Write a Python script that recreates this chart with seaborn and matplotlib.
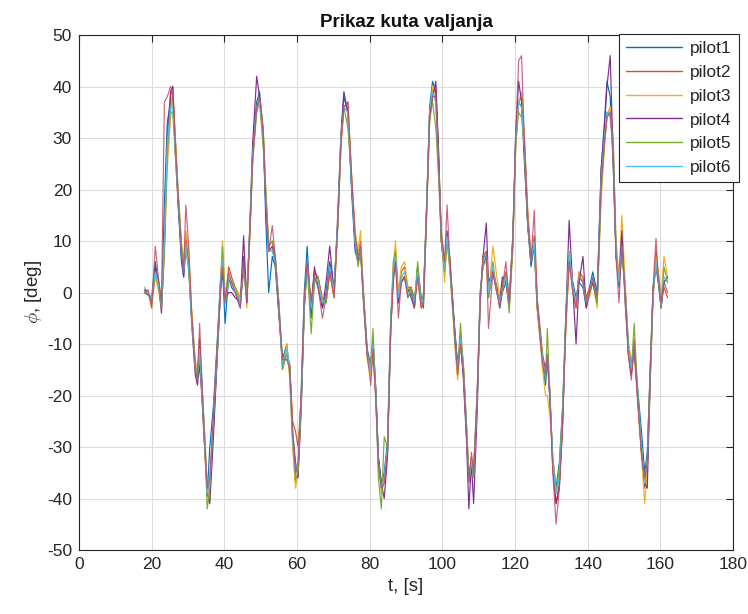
import numpy as np
import pandas as pd
import matplotlib
matplotlib.use("Agg")
import matplotlib.pyplot as plt
from matplotlib.lines import Line2D
import seaborn as sns

# ---------------- data ----------------
t = [
    18, 19, 20, 21, 22, 22.7, 23.5, 24.3, 25.2, 25.8,
    26.5, 27.3, 28.2, 28.8, 29.4, 30.2, 31, 32, 32.6, 33.2,
    33.9, 34.5, 35.3, 36, 37, 38, 39, 39.5, 40.2, 41.2,
    42, 43, 44.4, 45.3, 46.2, 47.1, 47.8, 48.9, 49.7, 50.7,
    51.4, 52.2, 53.2, 54, 55, 56, 57.2, 58, 58.8, 59.6,
    60.3, 61.2, 62, 62.8, 63.9, 64.8, 65.8, 67, 68, 69,
    70.2, 71.2, 72.1, 72.9, 74, 75, 76, 76.8, 77.5, 78.2,
    79.3, 80.3, 80.9, 81.7, 82.4, 83.2, 84, 84.9, 85.8, 86.5,
    87.1, 87.9, 88.7, 89.6, 90.5, 91.4, 92.3, 93.2, 94.2, 94.8,
    95.6, 96.5, 97.3, 98.2, 99, 99.7, 100.6, 101.3, 102, 102.9,
    103.5, 104.2, 105, 105.8, 106.6, 107.3, 108, 108.6, 109.6, 110.4,
    111.2, 112.1, 112.7, 113.9, 115, 115.8, 116.5, 117.5, 118.4, 119.4,
    120.2, 121, 121.8, 122.6, 123.5, 124.4, 125.3, 126.1, 127.6, 128.4,
    128.9, 129.6, 130.4, 131.3, 132.2, 133.1, 134, 134.9, 135.9, 136.8,
    137.6, 138.7, 139.6, 140.5, 141.4, 142.6, 143.7, 144.6, 145.3, 146.2,
    147, 147.8, 148.6, 149.4, 150.3, 151.2, 152, 152.8, 153.8, 154.8,
    155.7, 156.4, 157.2, 158, 158.8, 159.4, 160.2, 161, 162,
]

pilot1 = [
    0, -0.5, -1, 6, 1, -3, 17, 33, 37, 38,
    30, 17, 6, 3, 9, 6, -4, -14, -16, -9,
    -18, -27, -39, -30, -22, -10, 3, 5, -6, 3,
    1, 0, -3, 7, -2, 13, 28, 37, 39, 31,
    14, 0, 7, 5, -4, -13, -10, -16, -29, -37,
    -35, -18, 0, 9, -5, 2, 3, -3, 0, 6,
    1, 13, 30, 38, 35, 20, 8, 6, 8, 1,
    -11, -14, -10, -19, -32, -37, -35, -29, -5, 3,
    6, 0, 2, 3, 1, -1, -3, 5, -1, -3,
    14, 36, 41, 39, 25, 10, 4, 10, 7, -2,
    -8, -14, -10, -16, -27, -36, -34, -35, -19, 0,
    5, 7, 1, 4, 1, -3, 0, 2, -2, 9,
    31, 37, 36, 27, 13, 5, 9, -3, -14, -18,
    -13, -21, -32, -38, -33, -22, -4, 7, 2, -1,
    2, 1, -3, 1, 4, 0, 24, 33, 41, 38,
    25, 7, 1, 8, 1, -10, -14, -11, -19, -27,
    -35, -31, -15, 1, 5, 2, -3, 2, 3,
]

pilot2 = [
    0.5, 0, -2, 4, 2, -2, 9, 28, 38, 40,
    30, 19, 9, 5, 11, 6, -4, -15, -16, -10,
    -21, -29, -39, -37, -26, -13, 1, 5, -2, 5,
    3, 1, -1, 4, 0, 13, 26, 36, 38, 32,
    20, 9, 10, 7, -2, -13, -13, -14, -25, -27,
    -30, -20, -3, 5, -2, 4, 3, -1, -2, 4,
    -1, 13, 29, 36, 37, 23, 11, 8, 10, 1,
    -11, -16, -11, -21, -34, -37, -36, -31, -7, 3,
    8, -2, 4, 5, 1, 1, -1, 3, -3, 0,
    14, 33, 38, 40, 26, 12, 6, 11, 7, -2,
    -10, -16, -8, -14, -25, -36, -32, -35, -21, -2,
    7, 7, -1, 4, 1, -2, 2, 4, -1, 11,
    29, 37, 38, 30, 16, 7, 11, -1, -12, -15,
    -12, -19, -34, -41, -37, -25, -6, 6, 1, -3,
    4, 3, -1, 1, 2, -2, 20, 29, 34, 36,
    30, 9, 3, 10, 1, -12, -16, -9, -21, -31,
    -38, -34, -17, -1, 8, 4, -1, 1, -1,
]

pilot3 = [
    0, 0.5, -3, 3, 0, -3, 7, 24, 34, 40,
    30, 20, 10, 6, 12, 8, -3, -13, -16, -12,
    -19, -26, -38, -40, -27, -13, 3, 10, 0, 3,
    2, 1, -1, 5, -3, 12, 25, 35, 38, 31,
    20, 9, 8, 7, -2, -15, -10, -17, -30, -38,
    -34, -21, -3, 5, -2, 3, 1, -1, -2, 4,
    -1, 12, 28, 36, 35, 23, 12, 8, 12, 1,
    -13, -16, -11, -20, -33, -39, -37, -31, -7, 5,
    10, 0, 5, 6, 1, 0, -2, 3, -3, -2,
    13, 34, 40, 37, 23, 12, 2, 10, 5, -4,
    -11, -17, -10, -14, -25, -36, -32, -34, -19, 0,
    5, 6, -1, 9, 3, -1, 2, 2, -3, 8,
    28, 37, 39, 29, 14, 6, 9, -3, -15, -20,
    -20, -24, -32, -39, -35, -23, -7, 6, 0, -3,
    4, 2, -2, -1, 2, -3, 18, 28, 34, 36,
    30, 10, 3, 15, 2, -10, -13, -12, -22, -32,
    -41, -34, -18, -1, 7, 4, -1, 7, 3,
]

pilot4 = [
    0.5, 0, -2, 5, 1, -4, 9, 30, 39, 40,
    27, 17, 7, 3, 9, 5, -6, -16, -18, -14,
    -21, -29, -39, -41, -28, -13, 1, 4, -1, 0,
    0, -1, -2, 11, -2, 15, 29, 42, 38, 30,
    17, 8, 9, 6, -4, -14, -12, -14, -27, -33,
    -36, -22, -3, 6, -3, 5, 1, -3, 2, 9,
    0, 15, 31, 39, 35, 21, 9, 6, 8, -1,
    -12, -14, -9, -19, -32, -37, -40, -32, -7, 3,
    6, -2, 2, 3, 0, 1, -3, 5, -2, -1,
    16, 35, 38, 41, 27, 10, 5, 12, 6, -3,
    -8, -14, -9, -17, -28, -42, -33, -41, -23, -1,
    7, 13.5, 2, 4, 0, -2, 3, 2, -3, 11,
    31, 41, 37, 25, 13, 6, 9, -2, -13, -15,
    -12, -20, -34, -41, -38, -26, -4, 14, 1, -10,
    2, 7, -3, 0, 2, -2, 24, 32, 40, 46,
    26, 7, 2, 12, -2, -12, -16, -11, -21, -31,
    -37, -38, -17, 1, 5, 3, -3, 2, 3,
]

pilot5 = [
    0, 0, -2, 4, 1, -3, 8, 27, 35, 35,
    27, 18, 9, 5, 9, 4, -5, -14, -17, -12,
    -20, -28, -42, -38, -24, -11, 3, 9, -2, 2,
    2, 1, -2, 4, 0, 13, 26, 35, 37, 28,
    19, 9, 10, 7, -2, -15, -12, -14, -28, -36,
    -35, -21, -3, 5, -8, 2, 3, -2, -2, 4,
    1, 13, 30, 36, 32, 22, 10, 5, 8, 0,
    -12, -14, -7, -20, -36, -42, -28, -30, -5, 6,
    8, -1, 3, 3, -1, 1, -2, 6, -2, -1,
    15, 34, 37, 32, 22, 10, 4, 10, 5, -4,
    -10, -15, -6, -15, -25, -35, -33, -36, -20, -2,
    6, 8, -1, 6, 0, -2, 0, 4, -4, 10,
    29, 35, 34, 28, 13, 7, 9, -3, -13, -17,
    -7, -20, -33, -39, -34, -23, -5, 8, 1, -2,
    3, 2, -2, 0, 3, -2, 20, 29, 35, 34,
    28, 8, 2, 8, 0, -11, -15, -6, -20, -30,
    -37, -32, -15, 0, 5, 3, -3, 5, 2,
]

pilot6 = [
    1, 0, -1, 4, 1, -2, 10, 29, 36, 36,
    28, 18, 8, 4, 9, 5, -5, -15, -16, -11,
    -20, -28, -39, -37, -24, -12, 2, 6, -2, 3,
    2, 0, -2, 5, -1, 14, 27, 36, 37, 30,
    18, 8, 8, 6, -3, -14, -11, -15, -28, -35,
    -33, -20, -2, 6, -3, 3, 2, -2, -1, 5,
    0, 14, 30, 36, 35, 22, 10, 7, 9, 0,
    -12, -15, -10, -20, -33, -38, -36, -30, -6, 4,
    7, -1, 3, 4, 0, 0, -2, 4, -2, -1,
    15, 35, 39, 37, 24, 11, 5, 11, 6, -3,
    -9, -15, -9, -15, -26, -37, -33, -35, -20, -1,
    6, 8, 0, 5, 0, -2, 1, 3, -2, 10,
    30, 37, 36, 28, 14, 6, 10, -2, -13, -16,
    -12, -20, -33, -39, -36, -24, -5, 8, 1, -2,
    3, 2, -2, 0, 3, -1, 22, 30, 35, 35,
    28, 8, 2, 9, 0, -11, -15, -10, -20, -30,
    -37, -33, -16, 0, 6, 3, -2, 3, 2,
]

# seventh trace (drawn, not listed in the legend)
pilot7 = [
    0, 0.5, -3, 9, 2, -2, 37, 38, 40, 39,
    29, 19, 8, 4, 17, 9, -4, -15, -17, -6,
    -19, -27, -38, -36, -24, -11, 1, 5, -2, 4,
    2, 0, -3, 6, -2, 13, 26, 36, 38, 31,
    18, 8, 13, 7, -3, -13, -13, -15, -27, -35,
    -33, -19, -1, 6, -2, 3, 1, -5, -1, 4,
    -1, 13, 29, 36, 37, 23, 11, 7, 9, 0,
    -12, -18, -11, -21, -33, -38, -37, -31, -7, 2,
    6, -5, 2, 3, -1, 0, -3, 3, -3, -2,
    14, 34, 38, 38, 24, 11, 6, 17, 7, -3,
    -9, -16, -10, -15, -27, -37, -31, -35, -20, -2,
    7, 8, -7, 4, 0, -3, 1, 6, -2, 10,
    31, 45, 46, 29, 14, 6, 16, -2, -14, -16,
    -12, -21, -35, -45, -38, -25, -6, 6, 0, -3,
    3, 2, -2, 0, 3, -1, 21, 29, 34, 35,
    27, 7, -2, 9, 0, -12, -17, -10, -21, -31,
    -36, -33, -15, 1, 10.5, 3, -2, 2, 0,
]

names = ["pilot1", "pilot2", "pilot3", "pilot4", "pilot5", "pilot6", "pilot7"]
legend_names = names[:6]
series = [pilot1, pilot2, pilot3, pilot4, pilot5, pilot6, pilot7]
colors = ["#0072BD", "#D95319", "#EDB120", "#7E2F8E", "#77AC30", "#4DBEEE", "#BF4A66"]

x_ticks = [0, 20, 40, 60, 80, 100, 120, 140, 160, 180]
y_ticks = [-50, -40, -30, -20, -10, 0, 10, 20, 30, 40, 50]

# ---------------- frame ----------------
frames = []
for n, s in zip(names, series):
    m = min(len(t), len(s))
    frames.append(pd.DataFrame({"t": t[:m], "phi": s[:m], "pilot": n}))
df = pd.concat(frames, ignore_index=True)

sns.set_theme(style="white")
plt.rcParams["font.family"] = ["Liberation Sans", "DejaVu Sans"]
plt.rcParams["mathtext.fontset"] = "cm"
plt.rcParams["axes.unicode_minus"] = False

fig = plt.figure(figsize=(7.48, 6.14), dpi=100)
ax = fig.add_axes([0.1056, 0.1042, 0.8744, 0.8388])

palette = dict(zip(names, colors))
for n in names:
    sns.lineplot(data=df[df["pilot"] == n], x="t", y="phi", color=palette[n],
                 estimator=None, sort=False, linewidth=0.85, legend=False,
                 alpha=0.85 if n == "pilot7" else 1.0, ax=ax)

ax.set_xlim(0, 180)
ax.set_ylim(-50, 50)
ax.set_xticks(x_ticks)
ax.set_yticks(y_ticks)
ax.grid(True, color="#dcdcdc", linewidth=0.8)
ax.set_axisbelow(True)
ax.tick_params(direction="in", length=5, width=0.8, colors="#262626",
               labelsize=12.5, top=True, right=True, pad=5)
for sp in ax.spines.values():
    sp.set_color("#262626")
    sp.set_linewidth(0.8)

ax.set_title("Prikaz kuta valjanja", fontsize=13.5, fontweight="bold",
             color="#111111", pad=6)
ax.set_xlabel("t, [s]", fontsize=13.5, color="#262626", labelpad=4)
ax.set_ylabel(r"$\phi$, [deg]", fontsize=13.5, color="#262626", labelpad=2)

handles = [Line2D([], [], color=palette[n], linewidth=1.0) for n in legend_names]
leg = ax.legend(handles, legend_names, loc="upper right",
                bbox_to_anchor=(1.009, 1.002), fontsize=12.5, frameon=True,
                fancybox=False, framealpha=1, edgecolor="#262626",
                handlelength=3.2, labelspacing=0.5, borderpad=0.4,
                handletextpad=0.5, borderaxespad=0)
leg.get_frame().set_linewidth(0.8)

fig.savefig("out.png", dpi=100)
